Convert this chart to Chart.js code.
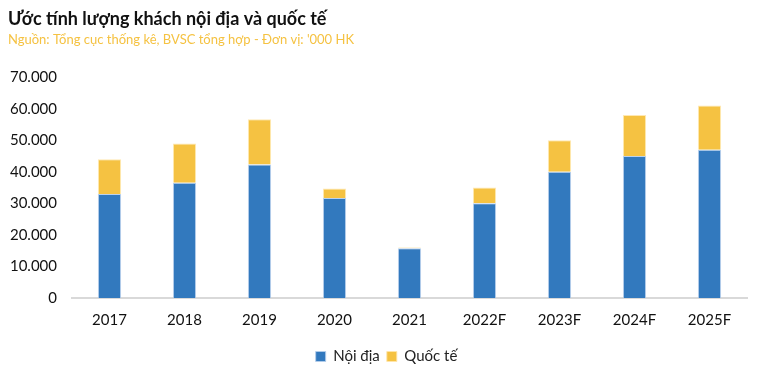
<!DOCTYPE html>
<html>
<head>
<meta charset="utf-8">
<script src="https://cdn.jsdelivr.net/npm/chart.js@4"></script>
<style>
  html, body { margin: 0; padding: 0; background: #fff; }
  #wrap { width: 765px; height: 382px; }
</style>
</head>
<body>
<div id="wrap"><canvas id="myChart" width="765" height="382"></canvas></div>
<script>
var years = ['2017', '2018', '2019', '2020', '2021', '2022F', '2023F', '2024F', '2025F']
var noiDia = [33000, 36500, 42300, 31700, 15800, 30000, 40000, 45000, 47000]
var quocTe = [11000, 12500, 14400, 3000, 200, 5000, 10000, 13000, 14000]
var yTicks = [0, 10000, 20000, 30000, 40000, 50000, 60000, 70000]

var FONT = 'Lato, "Noto Sans", sans-serif'

function fmt(v){
    return String(v).replace(/\B(?=(\d{3})+(?!\d))/g, '.')
}

// legend in the picture sits a bit right of centre
var nudgeLegend = {
    id: 'nudgeLegend',
    afterLayout: function(chart){
        chart.legend.left += 9
        chart.legend.right += 9
    }
}

function drawChart(){
var ctx = document.getElementById('myChart').getContext('2d')
var myChart = new Chart(ctx, {
    type: 'bar',
    data: {
        labels: years,
        datasets: [{
            label: 'Nội địa',
            data: noiDia,
            backgroundColor: '#3279be',
            borderColor: 'rgba(180, 205, 235, 0.9)',
            borderWidth: 1,
            barPercentage: 0.62,
            categoryPercentage: 0.5
        }, {
            label: 'Quốc tế',
            data: quocTe,
            backgroundColor: '#f5c242',
            borderColor: 'rgba(255, 230, 170, 0.9)',
            borderWidth: 1,
            barPercentage: 0.62,
            categoryPercentage: 0.5
        }]
    },
    plugins: [nudgeLegend],
    options: {
        responsive: false,
        animation: false,
        layout: { padding: { left: 8, right: 18, top: 0, bottom: 8 } },
        plugins: {
            title: {
                display: true,
                text: 'Ước tính lượng khách nội địa và quốc tế',
                align: 'start',
                color: '#111',
                font: { family: FONT, size: 18, weight: 'bold' },
                padding: { top: 8, bottom: 2 }
            },
            subtitle: {
                display: true,
                text: "Nguồn: Tổng cục thống kê, BVSC tổng hợp - Đơn vị: '000 HK",
                align: 'start',
                color: '#f5c242',
                font: { family: FONT, size: 13 },
                padding: { top: 0, bottom: 30 }
            },
            legend: {
                position: 'bottom',
                labels: {
                    boxWidth: 10,
                    boxHeight: 10,
                    color: '#222',
                    font: { family: FONT, size: 15 },
                    padding: 7
                }
            },
            tooltip: { enabled: false }
        },
        scales: {
            x: {
                stacked: true,
                grid: { display: false, drawTicks: false },
                border: { display: true, color: '#d9d9d9', width: 2 },
                ticks: { color: '#111', font: { family: FONT, size: 15 }, padding: 13 }
            },
            y: {
                stacked: true,
                min: 0,
                max: 70000,
                afterFit: function(scale){ scale.width = 64 },
                afterBuildTicks: function(scale){
                    scale.ticks = yTicks.map(function(v){ return { value: v } })
                },
                grid: { display: false, drawTicks: false },
                border: { display: false },
                ticks: {
                    color: '#111',
                    font: { family: FONT, size: 15 },
                    padding: 15,
                    callback: function(v){ return fmt(v) }
                }
            }
        }
    }
});
}

document.addEventListener('DOMContentLoaded', drawChart);
</script>
</body>
</html>
